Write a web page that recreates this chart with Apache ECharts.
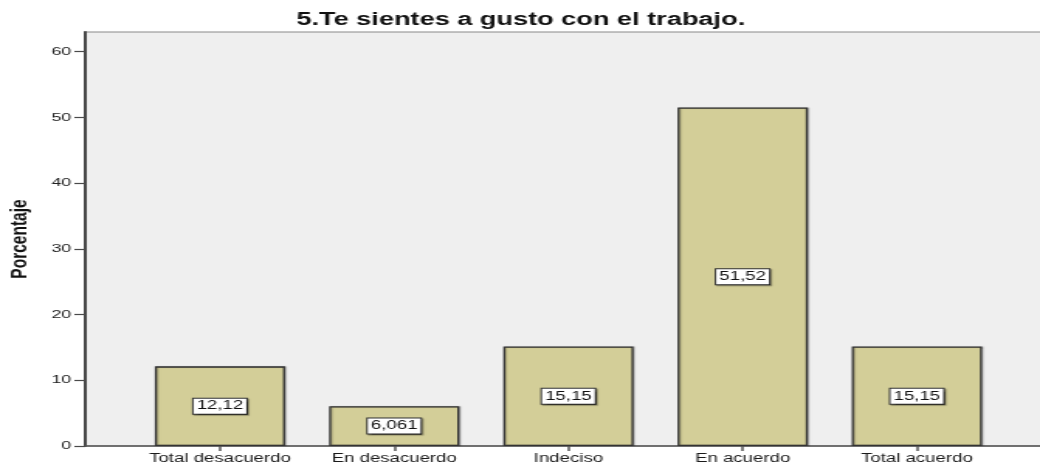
<!DOCTYPE html>
<html>
<head>
<meta charset="utf-8">
<script src="https://cdn.jsdelivr.net/npm/echarts@6/dist/echarts.min.js"></script>
<style>
  html, body { margin: 0; padding: 0; background: #fff; overflow: hidden; width: 1040px; height: 468px; }
  /* the original picture is stretched sideways, so the chart is drawn narrow and widened;
     it runs a little past the right edge, like the cropped original */
  #chart { width: 690px; height: 468px; transform: scaleX(1.55); transform-origin: 0 0; }
</style>
</head>
<body>
<div id="chart"></div>
<script>
  const categories = ['Total desacuerdo', 'En desacuerdo', 'Indeciso', 'En acuerdo', 'Total acuerdo'];
  const percentages = [12.12, 6.061, 15.15, 51.52, 15.15];
  const yTicks = [0, 10, 20, 30, 40, 50, 60];
  const xTicks = [0, 1, 2, 3, 4];

  var chartDom = document.getElementById('chart');
  var myChart = echarts.init(chartDom, null, { renderer: 'canvas' });
  var option;

  option = {
    animation: false,
    backgroundColor: '#fff',
    textStyle: { fontFamily: 'Liberation Sans' },
    title: {
      text: '5.Te sientes a gusto con el trabajo.',
      left: 336,
      textAlign: 'center',
      top: 11,
      padding: 0,
      textStyle: { fontFamily: 'Liberation Sans', fontWeight: 'bold', fontSize: 17.5, color: '#111' }
    },
    grid: {
      left: 55,
      top: 32,
      bottom: 22,
      width: 625,
      outerBoundsMode: 'none',
      containLabel: false,
      show: true,
      backgroundColor: '#efefef',
      borderColor: '#8a8a8a',
      borderWidth: 1.2
    },
    xAxis: {
      type: 'value',
      min: -0.773,
      max: 4.787,
      splitLine: { show: false },
      axisLine: { show: true, onZero: false, lineStyle: { color: '#555', width: 1.5 } },
      axisTick: { show: true, inside: false, customValues: xTicks, length: 5, lineStyle: { color: '#555', width: 1.5 } },
      axisLabel: {
        customValues: xTicks,
        margin: 7,
        fontSize: 12,
        color: '#1a1a1a',
        formatter: function (v) { return categories[Math.round(v)]; }
      }
    },
    yAxis: {
      type: 'value',
      min: 0,
      max: 63,
      interval: 10,
      name: 'Porcentaje',
      nameLocation: 'middle',
      nameRotate: 90,
      nameGap: 34,
      nameTextStyle: { fontFamily: 'Liberation Sans', fontWeight: 'bold', fontSize: 15.5, color: '#111' },
      splitLine: { show: false },
      axisLine: { show: true, onZero: false, lineStyle: { color: '#4a4a4a', width: 2 } },
      axisTick: { show: true, inside: false, customValues: yTicks, length: 7, lineStyle: { color: '#4a4a4a', width: 1.2 } },
      axisLabel: { customValues: yTicks, margin: 9, fontSize: 11.5, color: '#222' }
    },
    series: [
      {
        type: 'bar',
        barWidth: 84,
        data: percentages.map(function (v, i) { return [i, v]; }),
        itemStyle: {
          color: '#d3ce98',
          borderColor: '#333',
          borderWidth: 1.3,
          shadowColor: 'rgba(0,0,0,0.25)',
          shadowOffsetX: 1,
          shadowBlur: 1
        },
        label: {
          show: true,
          position: 'inside',
          fontSize: 12,
          color: '#111',
          backgroundColor: '#fff',
          borderColor: '#333',
          borderWidth: 1,
          padding: [2, 2, 1, 2],
          shadowColor: 'rgba(0,0,0,0.35)',
          shadowOffsetX: 1,
          shadowOffsetY: 1,
          shadowBlur: 1,
          formatter: function (p) { return String(p.value[1]).replace('.', ','); }
        }
      }
    ]
  };

  option && myChart.setOption(option);
</script>
</body>
</html>
